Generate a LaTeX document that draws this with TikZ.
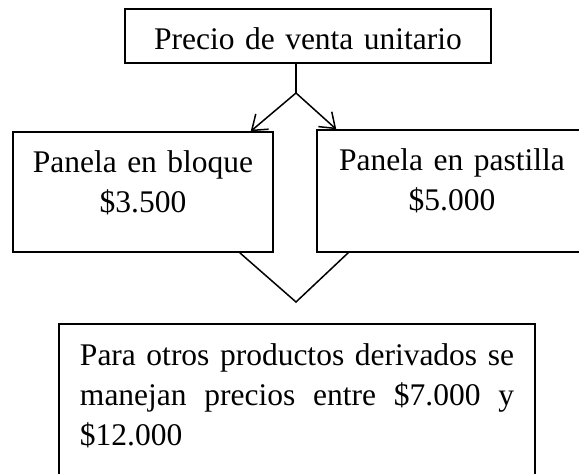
\documentclass[tikz,border=0pt]{standalone}
\usepackage{fontspec}
\setmainfont{Liberation Serif}
\usetikzlibrary{arrows.meta}
\tolerance=9999

\begin{document}
\begin{tikzpicture}[x=0.4pt, y=0.4pt, >={Straight Barb[length=5.5pt, width=8pt]},
	caja/.style={draw, line width=0.6pt, inner sep=0pt, anchor=base, text height=16.4pt, font=\fontsize{12.6}{16}\selectfont},
	linea/.style={line width=0.6pt}]
	\useasboundingbox (0,0) rectangle (579,473);

	\coordinate (cruce) at (296,380);
	\coordinate (vertice) at (296,171);

	\node[caja, align=center, text width=146.4pt, text depth=5.2pt] (precio) at (308,423) {Precio de venta unitario};
	\node[caja, align=center, text width=104pt, text depth=31.6pt] (bloque) at (143,300) {Panela en bloque\\\$3.500};
	\node[caja, align=center, text width=108pt, text depth=32.4pt] (pastilla) at (452,302) {Panela en pastilla\\\$5.000};
	\node[caja, align=justify, text width=173.6pt, inner xsep=8.4pt, text depth=48pt] (otros) at (297,108)
		{Para otros productos derivados se\linebreak manejan precios entre \$7.000 y\linebreak \$12.000};

	\draw[linea] (precio.south -| cruce) -- (cruce);
	\draw[linea, ->] (cruce) -- ([xshift=-9.2pt]bloque.north east);
	\draw[linea, ->] (cruce) -- ([xshift=8pt]pastilla.north west);

	\draw[linea] ([xshift=-13.6pt]bloque.south east) -- (vertice) -- ([xshift=12.8pt]pastilla.south west);
\end{tikzpicture}
\end{document}
